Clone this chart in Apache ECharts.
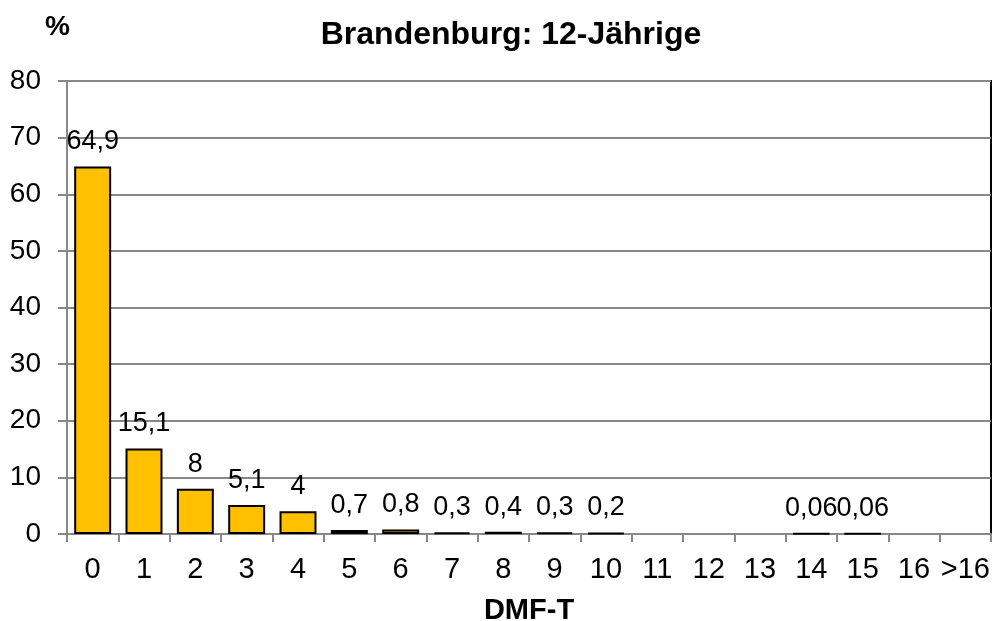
<!DOCTYPE html>
<html>
<head>
<meta charset="utf-8">
<script src="https://cdn.jsdelivr.net/npm/echarts@6/dist/echarts.min.js"></script>
<style>
    html, body { margin: 0; padding: 0; background: #fff; }
    #main { width: 993px; height: 621px; }
</style>
</head>
<body>
<div id="main"></div>
<script>
// Kategorien (DMF-T) und Anteile in %
var categories = ['0', '1', '2', '3', '4', '5', '6', '7', '8', '9', '10', '11', '12', '13', '14', '15', '16', '>16'];
var values = [64.9, 15.1, 8, 5.1, 4, 0.7, 0.8, 0.3, 0.4, 0.3, 0.2, 0, 0, 0, 0.06, 0.06, 0, 0];

var chart = echarts.init(document.getElementById('main'));
var font = 'Liberation Sans, Arial, sans-serif';

// Nullwerte nicht zeichnen (kein Rahmen, kein Label)
var barData = values.map(function (v) {
    return v === 0 ? '-' : v;
});

var option = {
    animation: false,
    title: {
        text: 'Brandenburg: 12-Jährige',
        left: 506,
        top: 14,
        textAlign: 'center',
        textStyle: { fontFamily: font, fontSize: 32, fontWeight: 'bold', color: '#000' }
    },
    graphic: [{
        type: 'text',
        left: 45,
        top: 13,
        style: { text: '%', font: 'bold 28px ' + font, fill: '#000' }
    }],
    grid: {
        left: 67,
        right: 2,
        top: 81,
        bottom: 87,
        outerBoundsMode: 'none',
        show: true,
        borderColor: '#000',
        borderWidth: 2
    },
    xAxis: {
        type: 'category',
        data: categories,
        name: 'DMF-T',
        nameLocation: 'middle',
        nameGap: 62,
        nameTextStyle: { fontFamily: font, fontSize: 29, fontWeight: 'bold', color: '#000' },
        axisLine: { lineStyle: { color: '#888', width: 2 } },
        axisTick: { show: true, length: 8, lineStyle: { color: '#888', width: 2 } },
        axisLabel: { fontFamily: font, fontSize: 29, color: '#000', margin: 21, interval: 0 }
    },
    yAxis: {
        type: 'value',
        min: 0,
        max: 80,
        interval: 10,
        axisLine: { show: true, lineStyle: { color: '#888', width: 2 } },
        axisTick: { show: true, length: 9, lineStyle: { color: '#888', width: 2 } },
        axisLabel: { fontFamily: font, fontSize: 28, color: '#000', margin: 26 },
        splitLine: { lineStyle: { color: '#888', width: 2 } }
    },
    series: [{
        type: 'bar',
        data: barData,
        barCategoryGap: '28%',
        itemStyle: { color: '#FFC000', borderColor: '#000', borderWidth: 2 },
        label: {
            show: true,
            position: 'top',
            distance: 11,
            fontFamily: font,
            fontSize: 27,
            color: '#000',
            formatter: function (p) {
                return String(p.value).replace('.', ',');
            }
        }
    }]
};

chart.setOption(option);
</script>
</body>
</html>
